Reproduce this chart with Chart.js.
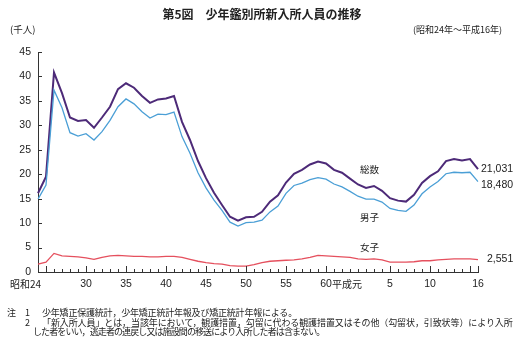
<!DOCTYPE html>
<html>
<head>
<meta charset="utf-8">
<script src="https://cdn.jsdelivr.net/npm/chart.js@4"></script>
<style>
  body { margin: 0; background: #fff; }
  #wrap { position: relative; width: 518px; height: 348px; overflow: hidden; font-family: 'Noto Sans CJK JP', sans-serif; color: #222; }
  #chart { position: absolute; left: 0; top: 0; }
  .txt { position: absolute; white-space: nowrap; }
  .title { left: 0; width: 524px; top: 5px; text-align: center; font-size: 12px; font-weight: bold; }
  .unit { left: 10px; top: 22px; font-size: 9.5px; }
  .period { right: 16px; top: 23px; font-size: 9px; }
  .note { font-size: 9px; line-height: 10px; }
</style>
</head>
<body>
<div id="wrap">
  <canvas id="chart" width="518" height="348"></canvas>
  <div class="txt title">第5図　少年鑑別所新入所人員の推移</div>
  <div class="txt unit">(千人)</div>
  <div class="txt period">(昭和24年～平成16年)</div>
  <div class="txt note" style="left:7px;top:308px">注</div>
  <div class="txt note" style="left:25px;top:308px">1</div>
  <div class="txt note" style="left:42px;top:308px;letter-spacing:-0.2px">少年矯正保護統計，少年矯正統計年報及び矯正統計年報による。</div>
  <div class="txt note" style="left:25px;top:318px">2</div>
  <div class="txt note" style="left:42px;top:318px;letter-spacing:-0.1px">「新入所人員」とは，当該年において，観護措置，勾留に代わる観護措置又はその他（勾留状，引致状等）により入所</div>
  <div class="txt note" style="left:33px;top:327px;letter-spacing:-0.9px">した者をいい，逃走者の連戻し又は施設間の移送により入所した者は含まない。</div>
</div>
<script>
// 昭和24年 ～ 平成16年
const years = ['昭和24', '25', '26', '27', '28', '29', '30', '31', '32', '33',
    '34', '35', '36', '37', '38', '39', '40', '41', '42', '43',
    '44', '45', '46', '47', '48', '49', '50', '51', '52', '53',
    '54', '55', '56', '57', '58', '59', '60', '61', '62', '63',
    '平成元', '2', '3', '4', '5', '6', '7', '8', '9', '10',
    '11', '12', '13', '14', '15', '16'];

// 千人
const totalValues = [16.1, 19.5, 40.8, 36.6, 31.6, 30.9, 31.1, 29.5, 31.6, 33.8,
    37.4, 38.6, 37.7, 36.0, 34.6, 35.3, 35.5, 36.0, 30.7, 27.0,
    22.7, 19.2, 16.2, 13.7, 11.3, 10.5, 11.2, 11.3, 12.3, 14.4,
    15.7, 18.3, 20.1, 20.9, 22.0, 22.6, 22.2, 20.9, 20.3, 19.1,
    17.9, 17.2, 17.6, 16.6, 15.1, 14.6, 14.4, 15.8, 18.2, 19.6,
    20.6, 22.7, 23.1, 22.8, 23.1, 21.031];
const maleValues = [14.9, 17.8, 37.2, 33.6, 28.5, 27.8, 28.3, 27.0, 28.7, 31.0,
    33.8, 35.4, 34.4, 32.8, 31.5, 32.3, 32.2, 32.7, 27.7, 24.3,
    20.3, 17.2, 14.7, 12.6, 10.2, 9.4, 10.1, 10.2, 10.6, 12.3,
    13.5, 16.1, 17.7, 18.2, 18.9, 19.3, 19.0, 18.0, 17.4, 16.5,
    15.5, 14.9, 14.9, 14.3, 13.0, 12.6, 12.4, 13.7, 16.0, 17.4,
    18.5, 20.1, 20.4, 20.3, 20.4, 18.48];
const femaleValues = [1.6, 2.0, 3.8, 3.3, 3.2, 3.1, 2.9, 2.6, 3.0, 3.3,
    3.4, 3.3, 3.2, 3.2, 3.1, 3.1, 3.2, 3.2, 3.0, 2.6,
    2.2, 1.9, 1.7, 1.6, 1.3, 1.2, 1.2, 1.5, 1.9, 2.2,
    2.3, 2.4, 2.5, 2.7, 3.0, 3.4, 3.3, 3.2, 3.1, 3.0,
    2.7, 2.6, 2.7, 2.5, 2.0, 2.0, 2.0, 2.1, 2.3, 2.3,
    2.5, 2.6, 2.7, 2.7, 2.7, 2.551];

const seriesNames = ['総数', '男子', '女子'];
const xTickLabels = ['昭和24', '30', '35', '40', '45', '50', '55', '60', '平成元', '5', '10', '16'];
const yTicks = [0, 5, 10, 15, 20, 25, 30, 35, 40, 45];

const NUM_FONT = "'Liberation Sans', Arial, 'Noto Sans CJK JP', sans-serif";
const CJK_FONT = "'Noto Sans CJK JP', sans-serif";

// inward tick marks, x labels, series names and end values
const decorations = {
    id: 'decorations',
    afterDraw(chart) {
        const ctx = chart.ctx;
        const xs = chart.scales.x;
        const ys = chart.scales.y;
        const left = chart.chartArea.left;
        const bottom = chart.chartArea.bottom;
        ctx.save();
        ctx.strokeStyle = '#333';
        ctx.lineWidth = 1;

        // y ticks (inside)
        yTicks.forEach(v => {
            const y = Math.round(ys.getPixelForValue(v)) + 0.5;
            ctx.beginPath();
            ctx.moveTo(left, y);
            ctx.lineTo(left + 4, y);
            ctx.stroke();
        });

        // x ticks (inside), longer every 5 years
        years.forEach((lab, i) => {
            const n = lab.endsWith('元') ? 1 : parseInt(lab.replace(/\D/g, ''), 10);
            const long = n % 5 === 0 || i === years.length - 1;
            const x = Math.round(xs.getPixelForValue(i)) + 0.5;
            ctx.beginPath();
            ctx.moveTo(x, bottom);
            ctx.lineTo(x, bottom - (long ? 6 : 3));
            ctx.stroke();
        });

        // x labels
        ctx.fillStyle = '#222';
        ctx.textBaseline = 'middle';
        const ly = bottom + 12;
        xTickLabels.forEach(lab => {
            const i = years.indexOf(lab);
            const x = xs.getPixelForValue(i);
            if (lab === '昭和24') {
                ctx.font = '10px ' + CJK_FONT;
                ctx.textAlign = 'right';
                ctx.fillText(lab, x + 3, ly);
            } else if (lab === '平成元') {
                ctx.font = '10px ' + CJK_FONT;
                ctx.textAlign = 'left';
                ctx.fillText(lab, xs.getPixelForValue(years.indexOf('60')) + 6, ly);
            } else {
                ctx.font = '10.5px ' + NUM_FONT;
                ctx.textAlign = 'center';
                ctx.fillText(lab, x, ly);
            }
        });

        // series names
        ctx.font = '9.5px ' + CJK_FONT;
        ctx.textAlign = 'left';
        const nx = xs.getPixelForValue(years.indexOf('平成元')) + 2;
        ctx.fillText(seriesNames[0], nx, ys.getPixelForValue(20.9));
        ctx.fillText(seriesNames[1], nx, ys.getPixelForValue(11.2));
        ctx.fillText(seriesNames[2], nx, ys.getPixelForValue(5.1));

        // end values
        ctx.font = '10.5px ' + NUM_FONT;
        const last = years.length - 1;
        const ex = xs.getPixelForValue(last);
        const fmt = v => Math.round(v * 1000).toLocaleString('en-US');
        ctx.fillText(fmt(totalValues[last]), ex + 3, ys.getPixelForValue(totalValues[last]));
        ctx.fillText(fmt(maleValues[last]), ex + 3, ys.getPixelForValue(maleValues[last]) + 3);
        ctx.fillText(fmt(femaleValues[last]), ex + 9, ys.getPixelForValue(femaleValues[last]));
        ctx.restore();
    }
};

const ctx = document.getElementById('chart').getContext('2d');
new Chart(ctx, {
    type: 'line',
    data: {
        labels: years,
        datasets: [{
            label: seriesNames[2],
            data: femaleValues,
            borderColor: '#e5505e',
            borderWidth: 1.3
        }, {
            label: seriesNames[1],
            data: maleValues,
            borderColor: '#4b9fd6',
            borderWidth: 1.3
        }, {
            label: seriesNames[0],
            data: totalValues,
            borderColor: '#4d2a78',
            borderWidth: 2
        }]
    },
    options: {
        responsive: false,
        animation: false,
        layout: {
            padding: { top: 52, right: 40, left: 0, bottom: 0 }
        },
        elements: {
            point: { radius: 0 },
            line: { tension: 0 }
        },
        plugins: {
            legend: { display: false },
            tooltip: { enabled: false }
        },
        scales: {
            x: {
                offset: false,
                afterFit: s => { s.height = 76; },
                grid: { display: false },
                border: { display: true, color: '#333', width: 1 },
                ticks: { display: false }
            },
            y: {
                min: 0,
                max: 45,
                afterFit: s => { s.width = 38; },
                grid: { drawOnChartArea: false, drawTicks: false },
                border: { display: true, color: '#333', width: 1 },
                ticks: {
                    stepSize: 5,
                    padding: 7,
                    color: '#222',
                    font: { family: NUM_FONT, size: 10.5 }
                }
            }
        }
    },
    plugins: [decorations]
});
</script>
</body>
</html>
